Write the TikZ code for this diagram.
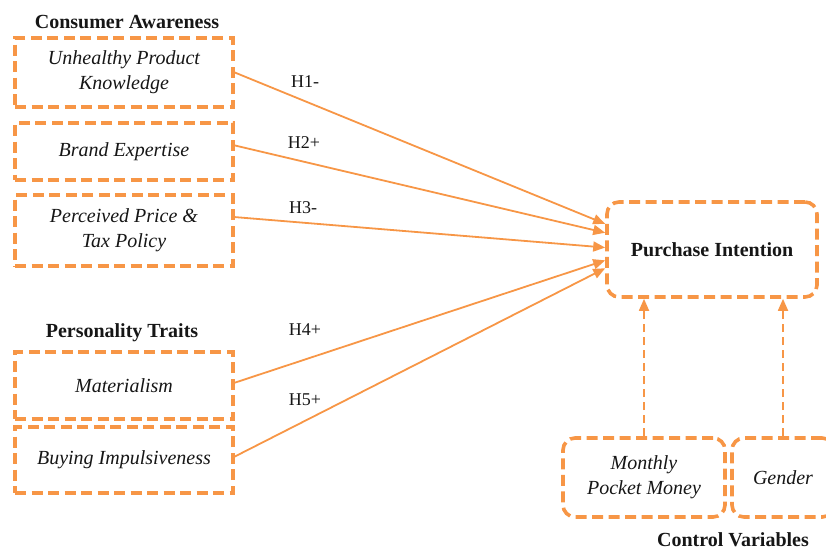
\documentclass[tikz,border=0pt]{standalone}
\usepackage{fontspec}
\setmainfont{Liberation Serif}
\usetikzlibrary{arrows.meta,calc}
\definecolor{accent}{RGB}{247,150,70}
\definecolor{ink}{RGB}{22,22,22}
\begin{document}
\begin{tikzpicture}[x=1pt,y=-1pt,
  box/.style={draw=accent, line width=3.6pt, dash pattern=on 11pt off 5.5pt,
    minimum width=218pt, align=center, inner sep=0pt, text=ink,
    font=\fontsize{20}{25}\selectfont\itshape},
  rbox/.style={box, rounded corners=12pt},
  heading/.style={font=\fontsize{20}{24}\selectfont\bfseries, text=ink, inner sep=0pt},
  hyp/.style={draw=accent, line width=1.8pt, -{Triangle[length=12pt,width=10pt]}},
  ctrl/.style={draw=accent, line width=1.8pt, dash pattern=on 8pt off 5pt,
    -{Triangle[length=12pt,width=10pt]}},
  hlabel/.style={font=\fontsize{18}{21}\selectfont, text=ink, inner sep=0pt}]
\useasboundingbox (0,0) rectangle (826,550);
\clip (0,0) rectangle (826,550);

% group headings
\node[heading] (hca) at (127,22) {Consumer Awareness};
\node[heading] (hpt) at (122,333) {Personality Traits};
\node[heading, anchor=base] (hcv) at (733,546) {Control Variables};

% antecedent constructs
\node[box, minimum height=69pt] (upk) at (124,72.5) {Unhealthy Product\\Knowledge};
\node[box, minimum height=57pt] (be)  at (124,151.5) {Brand Expertise};
\node[box, minimum height=71pt] (ppt) at (124,230.5) {Perceived Price \&\\Tax Policy};
\node[box, minimum height=67pt] (mat) at (124,385.5) {Materialism};
\node[box, minimum height=66pt] (bi)  at (124,460) {Buying Impulsiveness};

% outcome
\node[rbox, minimum width=210pt, minimum height=95pt,
  font=\fontsize{20}{24}\selectfont\bfseries] (pi) at (712,249.5) {Purchase Intention};

% control variables
\node[rbox, minimum width=162pt, minimum height=79pt] (mpm) at (644,477.5) {Monthly\\Pocket Money};
\node[rbox, minimum width=102pt, minimum height=79pt] (gen) at (783,477.5) {Gender};

% hypothesised paths
\draw[hyp] ($(upk.north east)!0.50!(upk.south east)$) -- ($(pi.north west)!0.24!(pi.south west)$);
\draw[hyp] ($(be.north east)!0.40!(be.south east)$)   -- ($(pi.north west)!0.33!(pi.south west)$);
\draw[hyp] ($(ppt.north east)!0.32!(ppt.south east)$) -- ($(pi.north west)!0.48!(pi.south west)$);
\draw[hyp] ($(mat.north east)!0.46!(mat.south east)$) -- ($(pi.north west)!0.61!(pi.south west)$);
\draw[hyp] ($(bi.north east)!0.45!(bi.south east)$)   -- ($(pi.north west)!0.69!(pi.south west)$);

\node[hlabel] (h1) at (305,82)  {H1-};
\node[hlabel] (h2) at (304,143) {H2+};
\node[hlabel] (h3) at (303,208) {H3-};
\node[hlabel] (h4) at (305,330) {H4+};
\node[hlabel] (h5) at (305,400) {H5+};

% control paths
\draw[ctrl] (mpm.north) -- (mpm.north |- pi.south);
\draw[ctrl] (gen.north) -- (gen.north |- pi.south);
\end{tikzpicture}
\end{document}
